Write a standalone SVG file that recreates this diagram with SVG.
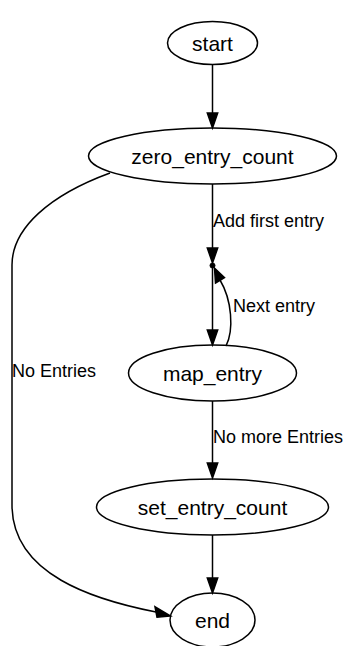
<svg xmlns="http://www.w3.org/2000/svg" width="351" height="646" viewBox="0 0 351 646">
<style>
.n ellipse{fill:none;stroke:#000;stroke-width:1.5}
.n text{font-family:"Liberation Sans",Arial,sans-serif;font-size:21px;text-anchor:middle;fill:#000}
.e path{fill:none;stroke:#000;stroke-width:1.5}
.e polygon{fill:#000;stroke:#000;stroke-width:1.5}
.lbl{font-family:"Liberation Sans",Arial,sans-serif;font-size:18px;fill:#000}
</style>
<rect width="351" height="646" fill="#fff"/>
<g id="edges" class="e">
<path d="M212.5,65 L212.5,113"/>
<polygon points="207.3,113 217.7,113 212.5,128"/>
<path d="M212.5,184 L212.5,248"/>
<polygon points="207.3,248 217.7,248 212.5,263"/>
<text class="lbl" x="213" y="227">Add first entry</text>
<path d="M212.5,267 L212.5,330"/>
<polygon points="207.3,330 217.7,330 212.5,345"/>
<path d="M226,346 C234,330 232,300 220,280"/>
<polygon points="215.5,283 224.5,277.5 214.5,268"/>
<text class="lbl" x="233" y="312">Next entry</text>
<path d="M110,173 C50,195 12,228 12,265 L12,505 C12,575 95,600 156,612"/>
<polygon points="155,606.8 157,617.2 170.5,616"/>
<text class="lbl" x="12" y="377">No Entries</text>
<path d="M212.5,401 L212.5,463"/>
<polygon points="207.3,463 217.7,463 212.5,478"/>
<text class="lbl" x="213" y="443">No more Entries</text>
<path d="M212.5,535 L212.5,578"/>
<polygon points="207.3,578 217.7,578 212.5,593"/>
</g>
<g id="start" class="n"><ellipse cx="212.5" cy="43" rx="45" ry="21.5"/><text x="212.5" y="50.5">start</text></g>
<g id="zero_entry_count" class="n"><ellipse cx="212.5" cy="156" rx="124" ry="28"/><text x="212.5" y="163.5">zero_entry_count</text></g>
<g id="point"><circle cx="212.5" cy="265.5" r="2.5" fill="#000" stroke="#000"/></g>
<g id="map_entry" class="n"><ellipse cx="212.5" cy="373" rx="84" ry="28"/><text x="212.5" y="380.5">map_entry</text></g>
<g id="set_entry_count" class="n"><ellipse cx="212.5" cy="507" rx="116" ry="28"/><text x="212.5" y="514.5">set_entry_count</text></g>
<g id="end" class="n"><ellipse cx="212.5" cy="620" rx="42.5" ry="27"/><text x="212.5" y="627.5">end</text></g>
</svg>
